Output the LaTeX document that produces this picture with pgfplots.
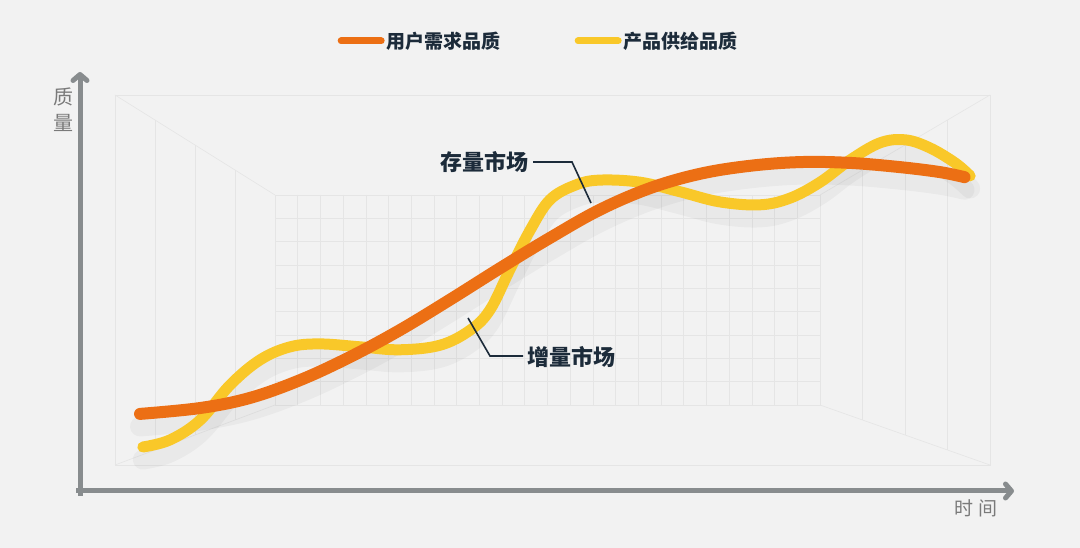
\documentclass[border=0pt]{standalone}
\usepackage{pgfplots}
\pgfplotsset{compat=1.18}
\usepackage{pgfplotstable}
\usepackage{fontspec}
\newfontfamily\cjk{Noto Sans CJK SC}
\usetikzlibrary{arrows.meta}
\definecolor{bg}{HTML}{F2F2F2}
\definecolor{gridc}{HTML}{E5E5E5}
\definecolor{axisgray}{HTML}{888C8E}
\definecolor{navy}{HTML}{1C2B3A}
\definecolor{orangeC}{HTML}{EC6F14}
\definecolor{yellowC}{HTML}{F9C829}
\definecolor{labgray}{HTML}{7A7A7A}

% user demand quality (time, quality)
\pgfplotstableread{
x y
6.4 18.4
12.8 19.8
18.1 22.2
23.5 26.5
28.8 32.0
34.1 38.4
39.4 45.6
44.8 53.2
50.1 60.4
55.4 67.1
60.8 72.3
66.1 75.7
71.4 77.6
76.8 78.5
82.1 78.3
87.4 77.3
91.7 76.1
94.3 74.9
}\demand

% product supply quality
\pgfplotstableread{
x y
6.7 10.5
9.6 12.2
12.8 16.9
16.0 25.3
19.2 31.3
22.4 34.4
25.6 35.1
29.9 34.4
34.1 33.7
38.4 34.8
41.6 38.4
43.7 43.2
45.8 52.7
48.0 62.3
50.1 69.5
52.8 73.0
55.4 74.2
59.7 73.7
64.0 71.4
68.2 69.0
72.5 68.3
75.7 69.9
78.9 73.7
82.1 79.0
85.3 83.1
88.0 83.8
90.6 81.9
93.3 78.3
94.9 75.2
}\supply

\begin{document}
\begin{tikzpicture}
\useasboundingbox (0,0) rectangle (1080pt,548pt);
\begin{scope}[x=1pt,y=1pt]
\fill[bg] (0,0) rectangle (1080,548);
% faint perspective grid decoration
\begin{scope}[gridc, line width=0.6pt]
\draw (115,453) rectangle (990,83);
\draw (275,353) rectangle (820,143);
\draw (115,453) -- (275,353);
\draw (990,453) -- (820,353);
\draw (115,83) -- (275,143);
\draw (990,83) -- (820,143);
\foreach \i in {1,...,23} {\draw (275+\i*545/24,353) -- (275+\i*545/24,143);}
\foreach \j in {1,...,8} {\draw (275,143+\j*210/9) -- (820,143+\j*210/9);}
\foreach \t in {0.25,0.5,0.75} {
  \draw (115+160*\t,453-100*\t) -- (115+160*\t,83+60*\t);
  \draw (990-170*\t,453-100*\t) -- (990-170*\t,83+60*\t);
}
\end{scope}
\end{scope}

\begin{axis}[
  at={(80pt,57pt)}, anchor=south west,
  scale only axis, width=938pt, height=419pt,
  xmin=0, xmax=100, ymin=0, ymax=100,
  hide axis, clip=false,
  legend columns=2,
  legend style={at={(0.489,1.074)}, anchor=center, draw=none, fill=none,
    font=\cjk\bfseries\fontsize{19}{21}\selectfont, text=navy,
    /tikz/every even column/.append style={column sep=72pt},
    inner sep=0pt},
  legend image code/.code={\draw[#1, line width=7pt, line cap=round] (4pt,0) -- (44pt,0);},
]
% shadows
\addplot[forget plot, smooth, tension=0.6, black, opacity=0.035, line width=20pt, line cap=round]
  table[x=x, y expr=\thisrow{y}-3] {\supply};
\addplot[forget plot, smooth, tension=0.6, black, opacity=0.035, line width=20pt, line cap=round]
  table[x=x, y expr=\thisrow{y}-3] {\demand};
% curves
\addplot[forget plot, smooth, tension=0.6, yellowC, line width=11pt, line cap=round] table[x=x,y=y] {\supply};
\addplot[forget plot, smooth, tension=0.6, orangeC, line width=12pt, line cap=round] table[x=x,y=y] {\demand};
\addlegendimage{orangeC}
\addlegendentry{用户需求品质}
\addlegendimage{yellowC}
\addlegendentry{产品供给品质}
\end{axis}

\begin{scope}[x=1pt,y=1pt]
% axes arrows
\draw[axisgray, line width=5pt, -{Straight Barb[length=6pt,width=14pt,line cap=round,round]}] (80,52) -- (80,476);
\draw[axisgray, line width=5pt, -{Straight Barb[length=6pt,width=14pt,line cap=round,round]}] (76,57) -- (1014,57);
% axis labels
\node[labgray, font=\cjk\fontsize{20}{20}\selectfont] at (63,451) {质};
\node[labgray, font=\cjk\fontsize{20}{20}\selectfont] at (63,425) {量};
\node[labgray, font=\cjk\fontsize{19}{19}\selectfont] at (976,40) {时\hspace{6pt}间};
% annotations
\node[navy, font=\cjk\bfseries\fontsize{22}{22}\selectfont] at (484,386) {存量市场};
\draw[navy, line width=1.6pt] (533,386) -- (572,386) -- (591,345);
\node[navy, font=\cjk\bfseries\fontsize{22}{22}\selectfont] at (571,191) {增量市场};
\draw[navy, line width=1.6pt] (468,230) -- (490,192) -- (523,192);
\end{scope}
\end{tikzpicture}
\end{document}
